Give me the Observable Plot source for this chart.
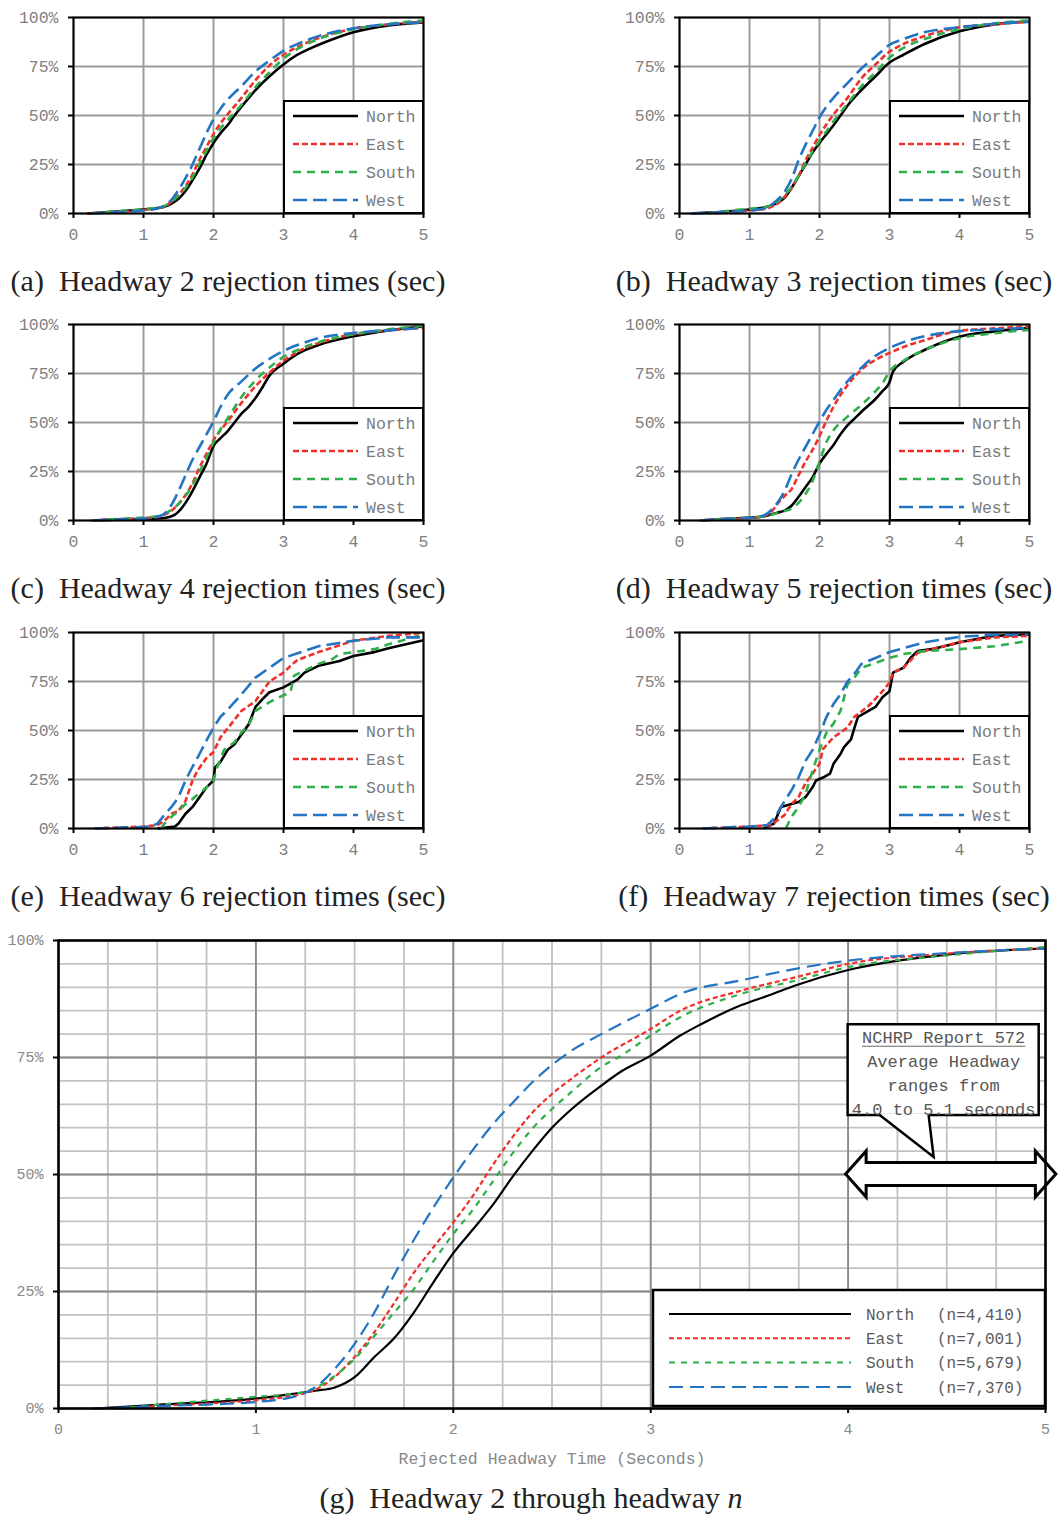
<!DOCTYPE html>
<html><head><meta charset="utf-8">
<script src="https://cdn.jsdelivr.net/npm/d3@7"></script>
<script src="https://cdn.jsdelivr.net/npm/@observablehq/plot@0.6"></script>
<style>
html,body{margin:0;padding:0;background:#fff;}
#fig{position:relative;width:1062px;height:1522px;overflow:hidden;background:#fff;}
.panel{position:absolute;}
.panel svg{max-width:none;}
.cap{position:absolute;font-family:"Liberation Serif","Times New Roman",serif;font-size:30px;line-height:34px;color:#222;white-space:pre;text-align:center;}
</style></head><body><div id="fig"></div>
<script>
// ---------- categories / labels ----------
const directions = ["North","East","South","West"];
const nCounts = ["4,410","7,001","5,679","7,370"];
const xTicks = [0,1,2,3,4,5];
const yTicks = [0,25,50,75,100];
const captions = [
  "(a)  Headway 2 rejection times (sec)",
  "(b)  Headway 3 rejection times (sec)",
  "(c)  Headway 4 rejection times (sec)",
  "(d)  Headway 5 rejection times (sec)",
  "(e)  Headway 6 rejection times (sec)",
  "(f)  Headway 7 rejection times (sec)"
];
const xAxisLabel = "Rejected Headway Time (Seconds)";
const calloutLines = ["NCHRP Report 572","Average Headway","ranges from","4.0 to 5.1 seconds"];
const nchrpRange = [3.99, 5.055];

// ---------- (a) headway 2 : [seconds, cumulative %] ----------
const h2N = [[0.19,0],[0.5,0.7],[0.8,1.5],[1.0,2],[1.2,2.8],[1.3,3.5],[1.4,5],[1.5,7.5],[1.6,11.5],[1.7,17],[1.8,23],[1.9,30],[2.0,36],[2.1,41],[2.2,45],[2.3,50],[2.4,54.5],[2.6,63],[2.8,70],[3.0,76],[3.2,81],[3.4,84.5],[3.6,87.5],[4.0,92.5],[4.5,96],[5.0,97.5]];
const h2E = [[0.2,0],[0.5,0.6],[1.0,1.8],[1.2,2.8],[1.3,3.6],[1.4,6],[1.5,9.5],[1.6,14],[1.7,20],[1.8,27.5],[1.9,34],[2.0,40.5],[2.1,46],[2.2,50.5],[2.4,59],[2.6,68],[2.8,75.5],[3.0,81],[3.2,85],[3.5,89.5],[4.0,94.3],[4.5,96.5],[5.0,97.8]];
const h2S = [[0.25,0],[0.5,0.8],[1.0,2.2],[1.2,3],[1.3,3.8],[1.4,6],[1.5,9],[1.6,13],[1.7,18.5],[1.8,25.5],[1.9,32],[2.0,38.5],[2.1,43.5],[2.2,47.5],[2.4,55.5],[2.6,64.5],[2.8,72],[3.0,79],[3.2,84],[3.5,89],[4.0,94],[4.5,96.8],[5.0,98.5]];
const h2W = [[0.25,0],[0.5,0.5],[1.0,1.5],[1.2,2.5],[1.3,4],[1.4,7],[1.5,12],[1.6,18],[1.7,25],[1.8,33],[1.9,41],[2.0,48],[2.1,53.5],[2.2,58],[2.4,65],[2.6,72.5],[2.8,78],[3.0,83],[3.2,86.5],[3.5,90.5],[4.0,94.5],[4.5,96.5],[5.0,97.5]];

// ---------- (b) headway 3 ----------
const h3N = [[0.17,0],[0.5,0.6],[1.0,2],[1.2,3],[1.3,4],[1.4,5.5],[1.5,8],[1.6,13],[1.7,19],[1.8,25],[1.9,31],[2.0,36],[2.1,40.5],[2.2,45],[2.3,50],[2.4,55],[2.6,63],[2.8,70],[3.0,77],[3.2,81],[3.5,86.5],[4.0,93],[4.5,96.5],[5.0,98]];
const h3E = [[0.5,0],[1.0,1.5],[1.2,2.2],[1.3,3.2],[1.4,5],[1.5,8.5],[1.6,13],[1.7,19],[1.8,27],[1.9,33.5],[2.0,40],[2.1,45.5],[2.2,50.5],[2.4,59],[2.6,69],[2.8,76],[3.0,82.5],[3.2,86.5],[3.5,90.5],[4.0,95],[4.5,96.5],[5.0,98]];
const h3S = [[0.4,0],[0.5,0.5],[1.0,2.5],[1.2,3.2],[1.3,4],[1.4,6],[1.5,9.5],[1.6,13.5],[1.7,19],[1.8,25.5],[1.9,31.5],[2.0,37],[2.1,42],[2.2,47],[2.4,56],[2.6,65],[2.8,72],[3.0,79.5],[3.2,84.5],[3.5,89],[4.0,94],[4.5,97],[5.0,98.5]];
const h3W = [[0.17,0],[0.5,0.5],[1.0,1.5],[1.2,2.5],[1.3,4],[1.4,7],[1.5,11],[1.6,17.5],[1.7,27],[1.8,35],[1.9,42],[2.0,49],[2.1,54.5],[2.2,59],[2.4,66.5],[2.6,74],[2.8,80],[3.0,86],[3.2,89],[3.5,92.5],[4.0,95],[4.5,96.8],[5.0,97.8]];

// ---------- (c) headway 4 ----------
const h4N = [[0.26,0],[0.5,0.3],[1.0,0.8],[1.2,1],[1.3,1.3],[1.4,2.2],[1.45,3],[1.5,4.5],[1.6,9],[1.7,15],[1.8,22],[1.9,29],[2.0,38],[2.1,42],[2.2,45.5],[2.3,50],[2.4,54.5],[2.5,58],[2.6,62.5],[2.7,68],[2.8,74],[3.0,80],[3.2,85],[3.5,89.5],[4.0,94],[4.5,97],[5.0,99]];
const h4E = [[0.26,0],[0.5,0.5],[1.0,1.2],[1.2,1.8],[1.3,3],[1.4,5],[1.5,8.5],[1.6,13],[1.7,19],[1.8,27],[1.9,34],[2.0,41],[2.1,46],[2.2,50.5],[2.4,60],[2.6,68.5],[2.8,75.5],[3.0,81.5],[3.2,86],[3.5,90.5],[4.0,95],[4.5,97],[5.0,98.3]];
const h4S = [[0.3,0],[0.5,0.5],[1.0,1.5],[1.2,2.2],[1.3,3.5],[1.4,5.5],[1.5,8.5],[1.6,12.5],[1.7,18],[1.8,25],[1.9,32],[2.0,40],[2.1,46.5],[2.2,52],[2.4,63],[2.6,71.5],[2.8,78],[3.0,83.5],[3.2,87],[3.5,91],[4.0,95],[4.5,97.5],[5.0,99.5]];
const h4W = [[0.3,0],[0.5,0.4],[1.0,1],[1.2,2],[1.3,3.5],[1.4,8],[1.5,15],[1.6,23],[1.7,31],[1.8,37.5],[1.9,44],[2.0,50.5],[2.1,58],[2.2,64],[2.4,71],[2.6,77.5],[2.8,82.5],[3.0,86.5],[3.2,89.5],[3.5,93],[4.0,95.7],[4.5,97],[5.0,98.3]];

// ---------- (d) headway 5 ----------
const h5N = [[0.3,0],[0.5,0.5],[1.0,1.5],[1.2,2],[1.3,3],[1.4,4],[1.5,5],[1.6,7.5],[1.7,12],[1.8,17],[1.9,22],[2.0,29],[2.1,34],[2.2,38.5],[2.3,44],[2.4,48.5],[2.5,52],[2.6,55.5],[2.8,62],[2.9,66],[3.0,70.5],[3.05,76],[3.2,81],[3.5,87],[4.0,93.8],[4.5,96.5],[5.0,98.3]];
const h5E = [[0.3,0],[0.5,0.5],[1.0,1.3],[1.2,2.2],[1.3,4],[1.4,8.5],[1.5,12.5],[1.6,16],[1.7,23],[1.8,30],[1.9,36],[2.0,43],[2.1,51],[2.2,58],[2.3,64],[2.4,69],[2.6,77],[2.8,82],[3.0,85.5],[3.2,88.5],[3.5,92],[4.0,96.8],[4.5,98],[5.0,99]];
const h5S = [[0.3,0],[0.5,0.5],[1.0,1.5],[1.2,2],[1.3,2.8],[1.4,3.8],[1.5,4.8],[1.6,6],[1.7,9],[1.8,13.5],[1.9,20],[2.0,30],[2.1,40],[2.2,46],[2.4,53],[2.6,59],[2.8,66],[2.9,70],[3.0,76],[3.2,81.5],[3.5,87],[4.0,93],[4.5,95.5],[5.0,97.3]];
const h5W = [[0.3,0],[0.5,0.5],[1.0,1.3],[1.2,2.5],[1.3,5],[1.4,9],[1.5,15],[1.6,23.5],[1.7,31],[1.8,37.5],[1.9,44],[2.0,50.5],[2.1,56.5],[2.2,61.5],[2.4,71],[2.6,78],[2.8,84],[3.0,88],[3.2,91],[3.5,94],[4.0,96.6],[4.5,97.5],[5.0,98.3]];

// ---------- (e) headway 6 ----------
const h6N = [[1.2,0],[1.45,1],[1.5,2.5],[1.6,7.5],[1.7,11],[1.8,16],[1.9,21],[2.0,24.5],[2.02,31],[2.1,34],[2.2,40],[2.3,43],[2.4,48],[2.5,53],[2.6,62],[2.7,66],[2.8,69.5],[3.0,72],[3.2,76],[3.3,79.5],[3.5,83],[3.8,85.5],[4.0,88],[4.3,90],[4.5,92],[5.0,96]];
const h6E = [[0.3,0],[1.0,1],[1.2,1.7],[1.3,4],[1.4,7.5],[1.5,9],[1.6,14],[1.7,24.5],[1.75,28],[1.8,31],[1.9,36],[2.0,39],[2.1,46.5],[2.2,51],[2.4,60],[2.6,65],[2.7,70],[2.8,75],[3.0,79.5],[3.1,83],[3.2,86],[3.5,90],[4.0,95.8],[4.5,98.3],[5.0,99.8]];
const h6S = [[1.25,0],[1.3,2.5],[1.4,6],[1.5,9],[1.6,12.5],[1.7,15],[1.8,18],[1.9,21],[2.0,24.5],[2.05,31],[2.15,40],[2.3,44],[2.4,49],[2.5,52.5],[2.6,60],[2.8,64.5],[3.0,68],[3.1,69.5],[3.15,78],[3.3,80.5],[3.5,84],[3.7,86.5],[3.8,89],[4.0,90],[4.3,91.5],[4.5,94],[5.0,99]];
const h6W = [[0.3,0],[1.0,0.8],[1.1,1],[1.2,2.5],[1.3,7],[1.4,11],[1.5,16],[1.6,24.5],[1.7,31.5],[1.8,38],[1.9,45],[2.0,51.5],[2.1,57],[2.2,60.5],[2.4,68.5],[2.6,77],[2.8,82],[3.0,87],[3.5,93],[4.0,95.8],[4.5,97.5],[5.0,97.5]];

// ---------- (f) headway 7 ----------
const h7N = [[1.2,0],[1.35,2.5],[1.45,11],[1.7,13.5],[1.8,16],[1.9,21],[1.95,24.5],[2.05,26],[2.15,28],[2.2,33],[2.3,38],[2.35,41.5],[2.45,45.5],[2.5,51.5],[2.55,57],[2.7,60],[2.8,62],[2.9,67],[3.0,70],[3.05,79.5],[3.2,82],[3.3,87],[3.4,90.5],[3.6,91.5],[3.9,94],[4.0,95],[4.5,98.3],[5.0,99]];
const h7E = [[0.33,0],[1.0,1],[1.3,1.7],[1.5,6.8],[1.6,12.5],[1.7,16],[1.8,23],[1.9,28],[2.0,33],[2.05,40.5],[2.2,46.5],[2.4,51.5],[2.5,57],[2.7,62.5],[2.9,70],[3.0,74.5],[3.05,79.5],[3.2,82],[3.4,89.5],[3.6,91.5],[4.0,95],[4.5,97.5],[5.0,98.3]];
const h7S = [[1.52,0],[1.6,6],[1.7,11],[1.8,17.5],[1.9,29.5],[2.0,40],[2.1,49],[2.2,53.5],[2.3,60],[2.4,73.5],[2.5,77],[2.6,82],[2.8,84.5],[3.0,87],[3.2,89],[3.5,90.5],[4.0,91.5],[4.5,93],[5.0,95.8]];
const h7W = [[0.33,0],[1.0,1],[1.25,1.7],[1.35,5],[1.45,11],[1.6,19.5],[1.7,26],[1.8,34.5],[1.9,40],[2.0,48],[2.1,57],[2.2,63.5],[2.3,68.5],[2.4,75],[2.5,79],[2.6,84],[2.8,87],[3.0,90],[3.2,92],[3.5,95],[4.0,97.8],[4.5,98.8],[5.0,99.2]];

// ---------- (g) headway 2 through n ----------
const allN = [[0.18,0],[0.5,0.8],[1.0,2.1],[1.2,3.2],[1.3,3.8],[1.4,4.5],[1.5,6.7],[1.6,11],[1.7,15],[1.8,20.5],[1.9,27],[2.0,33.2],[2.1,38.3],[2.2,43.5],[2.3,49.5],[2.4,55],[2.5,60],[2.6,64],[2.75,69],[2.85,72],[3.0,75.4],[3.15,79.7],[3.25,82],[3.46,86.2],[3.6,88.3],[3.74,90.5],[4.0,93.7],[4.27,95.8],[4.5,97],[5.0,98.3]];
const allE = [[0.3,0],[0.5,0.5],[1.0,1.8],[1.2,2.8],[1.3,4],[1.4,6.8],[1.5,11],[1.6,16.3],[1.7,22.5],[1.8,29],[1.9,34.5],[2.0,39.8],[2.1,45.5],[2.2,52],[2.3,58],[2.4,63.2],[2.5,67.2],[2.6,70.5],[2.75,75],[3.0,81.1],[3.15,85],[3.46,89.3],[3.74,92.2],[4.0,95],[4.5,97.2],[5.0,98.3]];
const allS = [[0.3,0],[0.5,0.8],[1.0,2.5],[1.2,3.2],[1.3,4.4],[1.4,7],[1.5,10.6],[1.6,15.5],[1.7,20.5],[1.8,25.5],[1.9,31.5],[2.0,37.3],[2.1,42.5],[2.2,48.5],[2.3,54.5],[2.4,59.8],[2.5,64],[2.6,67.7],[2.75,73],[2.85,75.4],[3.0,79.7],[3.15,83.6],[3.46,88.6],[3.74,91.5],[4.0,94.3],[4.5,96.8],[5.0,98.6]];
const allW = [[0.18,0],[0.5,0.5],[1.0,1.4],[1.2,2.6],[1.3,4.5],[1.4,8.5],[1.5,13.8],[1.6,20.5],[1.7,28.5],[1.8,36],[1.9,43],[2.0,49.4],[2.1,55.3],[2.2,60.7],[2.3,65.3],[2.4,69.7],[2.5,73.4],[2.6,76.5],[2.75,80],[3.0,85.4],[3.15,88.6],[3.46,91.5],[3.74,94],[4.0,95.7],[4.5,97.3],[5.0,98.3]];

// ---------- styles ----------
const colors = ["#000000","#f0302a","#2fae4a","#2474c4"];
const dashSmall = [null,"6,3","8,6","14,6"];
const dashBig = [null,"5,3","6,6","14,7"];
const monoFont = "'Liberation Mono','DejaVu Sans Mono',monospace";

const fig = document.getElementById("fig");

function place(node, left, top){
  const d = document.createElement("div");
  d.className = "panel"; d.style.left = left+"px"; d.style.top = top+"px";
  d.appendChild(node); fig.appendChild(d); return d;
}
function caption(html, left, top, width){
  const d = document.createElement("div");
  d.className = "cap"; d.style.left = left+"px"; d.style.top = top+"px"; d.style.width = width+"px";
  d.innerHTML = html; fig.appendChild(d);
}

function seriesMarks(series, w, dashes, curve){
  return series.map((s,i) => Plot.line(s, {x: p=>p[0], y: p=>p[1], stroke: colors[i], strokeWidth: w,
    strokeDasharray: dashes[i] || undefined, curve, strokeLinejoin:"round", strokeLinecap:"butt"}));
}

function smallLegend(index, scales, values, dims){
  const g = d3.create("svg:g");
  const L = dims.marginLeft, R = dims.width - dims.marginRight, T = dims.marginTop, B = dims.height - dims.marginBottom;
  const bx = L + 211, by = T + 84;
  g.append("rect").attr("x",bx).attr("y",by).attr("width",R-bx).attr("height",B-by)
    .attr("fill","#fff").attr("stroke","#000").attr("stroke-width",2);
  directions.forEach((d,i)=>{
    const y = by + 15 + i*28;
    const ln = g.append("line").attr("x1",bx+9).attr("x2",bx+74).attr("y1",y).attr("y2",y)
      .attr("stroke",colors[i]).attr("stroke-width",2.6);
    if (dashSmall[i]) ln.attr("stroke-dasharray",dashSmall[i]);
    g.append("text").attr("x",bx+82).attr("y",y).attr("dy","0.36em").attr("text-anchor","start").text(d)
      .attr("fill","#7a7a7a").attr("font-family",monoFont).attr("font-size",16.5);
  });
  return g.node();
}

function smallPanel(series, left, top, curve){
  const chart = Plot.plot({
    width:450, height:250, marginLeft:73, marginRight:27, marginTop:17, marginBottom:37,
    x:{domain:[0,5]}, y:{domain:[0,100]},
    style:{fontFamily:monoFont, fontSize:"16px", background:"transparent", overflow:"visible"},
    marks:[
      Plot.gridX(xTicks, {stroke:"#9c9c9c", strokeOpacity:1, strokeWidth:2}),
      Plot.gridY(yTicks, {stroke:"#9c9c9c", strokeOpacity:1, strokeWidth:2}),
      ...seriesMarks(series, 2.6, dashSmall, curve),
      smallLegend,
      Plot.frame({stroke:"#000", strokeWidth:2}),
      Plot.axisX(xTicks, {tickSize:5, tickPadding:10, stroke:"#000", strokeWidth:2, fill:"#808080", tickFormat:d=>String(d), label:null, fontSize:16.5}),
      Plot.axisY(yTicks, {tickSize:5, tickPadding:10, stroke:"#000", strokeWidth:2, fill:"#808080", tickFormat:d=>d+"%", label:null, fontSize:16.5})
    ]
  });
  place(chart, left, top);
}

const smallSeries = [[h2N,h2E,h2S,h2W],[h3N,h3E,h3S,h3W],[h4N,h4E,h4S,h4W],[h5N,h5E,h5S,h5W],[h6N,h6E,h6S,h6W],[h7N,h7E,h7S,h7W]];
const curves = ["monotone-x","monotone-x","monotone-x","monotone-x","linear","linear"];
smallSeries.forEach((s,i)=>{
  const col = i%2, row = Math.floor(i/2);
  const left = col ? 606 : 0;
  const top = [0,307,615][row];
  smallPanel(s, left, top, curves[i]);
  caption(captions[i], left, top+264, 456);
});

// ---------- big panel ----------
function bigLegend(index, scales, values, dims){
  const g = d3.create("svg:g");
  const L = dims.marginLeft, R = dims.width - dims.marginRight, T = dims.marginTop, B = dims.height - dims.marginBottom;
  const bx = L + 595, by = T + 350;
  g.append("rect").attr("x",bx).attr("y",by).attr("width",R-bx).attr("height",B-by-2)
    .attr("fill","#fff").attr("stroke","#000").attr("stroke-width",2.5);
  directions.forEach((d,i)=>{
    const y = by + 24 + i*24.3;
    const ln = g.append("line").attr("x1",bx+16).attr("x2",bx+198).attr("y1",y).attr("y2",y)
      .attr("stroke",colors[i]).attr("stroke-width",2);
    if (dashBig[i]) ln.attr("stroke-dasharray",dashBig[i]);
    g.append("text").attr("x",bx+213).attr("y",y).attr("dy","0.36em").attr("text-anchor","start").text(d)
      .attr("fill","#5a5a5a").attr("font-family",monoFont).attr("font-size",16);
    g.append("text").attr("x",bx+284).attr("y",y).attr("dy","0.36em").attr("text-anchor","start").text(`(n=${nCounts[i]})`)
      .attr("fill","#5a5a5a").attr("font-family",monoFont).attr("font-size",16);
  });
  return g.node();
}

function callout(index, scales, values, dims){
  const x = scales.x, y = scales.y;
  const g = d3.create("svg:g");
  const xl = x(nchrpRange[0]), xr = x(nchrpRange[1]), cy = y(50);
  const hl = 20.5, hh = 23, sh = 11.5;
  const pts = [[xl,cy],[xl+hl,cy-hh],[xl+hl,cy-sh],[xr-hl,cy-sh],[xr-hl,cy-hh],[xr,cy],[xr-hl,cy+hh],[xr-hl,cy+sh],[xl+hl,cy+sh],[xl+hl,cy+hh]];
  g.append("path").attr("d","M"+pts.map(p=>p.join(",")).join("L")+"Z")
    .attr("fill","#fff").attr("stroke","#000").attr("stroke-width",3).attr("stroke-linejoin","miter");
  const bx0 = xl + 2, bx1 = x(4.968), byT = y(82), byB = y(62.6);
  g.append("rect").attr("x",bx0).attr("y",byT).attr("width",bx1-bx0).attr("height",byB-byT)
    .attr("fill","#fff").attr("stroke","#000").attr("stroke-width",2.5);
  const pl = bx0 + 32, pr = bx0 + 81, tip = [bx0 + 86, cy - 17];
  g.append("path").attr("d",`M${pl},${byB-1.5}L${tip[0]},${tip[1]}L${pr},${byB-1.5}Z`).attr("fill","#fff");
  g.append("path").attr("d",`M${pl},${byB}L${tip[0]},${tip[1]}L${pr},${byB}`)
    .attr("fill","none").attr("stroke","#000").attr("stroke-width",2.5).attr("stroke-linejoin","miter");
  const cx = (bx0 + bx1)/2 + 0.5;
  calloutLines.forEach((t,i)=>{
    g.append("text").attr("x",cx).attr("y",byT + 13 + i*24).attr("dy","0.36em").attr("text-anchor","middle")
      .attr("fill","#555").attr("font-family",monoFont).attr("font-size",17).text(t);
  });
  const uw = calloutLines[0].length * 17 * 0.6;
  g.append("line").attr("x1",cx-uw/2).attr("x2",cx+uw/2).attr("y1",byT+22).attr("y2",byT+22)
    .attr("stroke","#666").attr("stroke-width",1);
  return g.node();
}

const minorX = d3.range(0, 5.001, 0.25);
const minorY = d3.range(0, 100.1, 5);
const big = Plot.plot({
  width:1062, height:560, marginLeft:58, marginRight:17, marginTop:20, marginBottom:72,
  x:{domain:[0,5]}, y:{domain:[0,100]},
  style:{fontFamily:monoFont, fontSize:"15px", background:"transparent", overflow:"visible"},
  marks:[
    Plot.gridX(minorX, {stroke:"#c2c2c2", strokeOpacity:1, strokeWidth:1.8}),
    Plot.gridY(minorY, {stroke:"#c2c2c2", strokeOpacity:1, strokeWidth:1.8}),
    Plot.gridX(xTicks, {stroke:"#8a8a8a", strokeOpacity:1, strokeWidth:1.8}),
    Plot.gridY(yTicks, {stroke:"#8a8a8a", strokeOpacity:1, strokeWidth:1.8}),
    ...seriesMarks([allN,allE,allS,allW], 2.2, dashBig, "monotone-x"),
    callout,
    bigLegend,
    Plot.frame({stroke:"#000", strokeWidth:2.5}),
    Plot.axisX(xTicks, {tickSize:5, tickPadding:10, stroke:"#000", strokeWidth:2, fill:"#888", tickFormat:d=>String(d), label:null, fontSize:15}),
    Plot.axisY(yTicks, {tickSize:5, tickPadding:10, stroke:"#000", strokeWidth:2, fill:"#888", tickFormat:d=>d+"%", label:null, fontSize:15}),
    Plot.text([xAxisLabel], {frameAnchor:"bottom", dy:50, text:d=>d, fill:"#888", fontSize:16.5, fontFamily:monoFont, lineAnchor:"middle"})
  ]
});
place(big, 0, 920);
caption("(g)  Headway 2 through headway <i>n</i>", 0, 1481, 1062);
</script>
</body></html>
